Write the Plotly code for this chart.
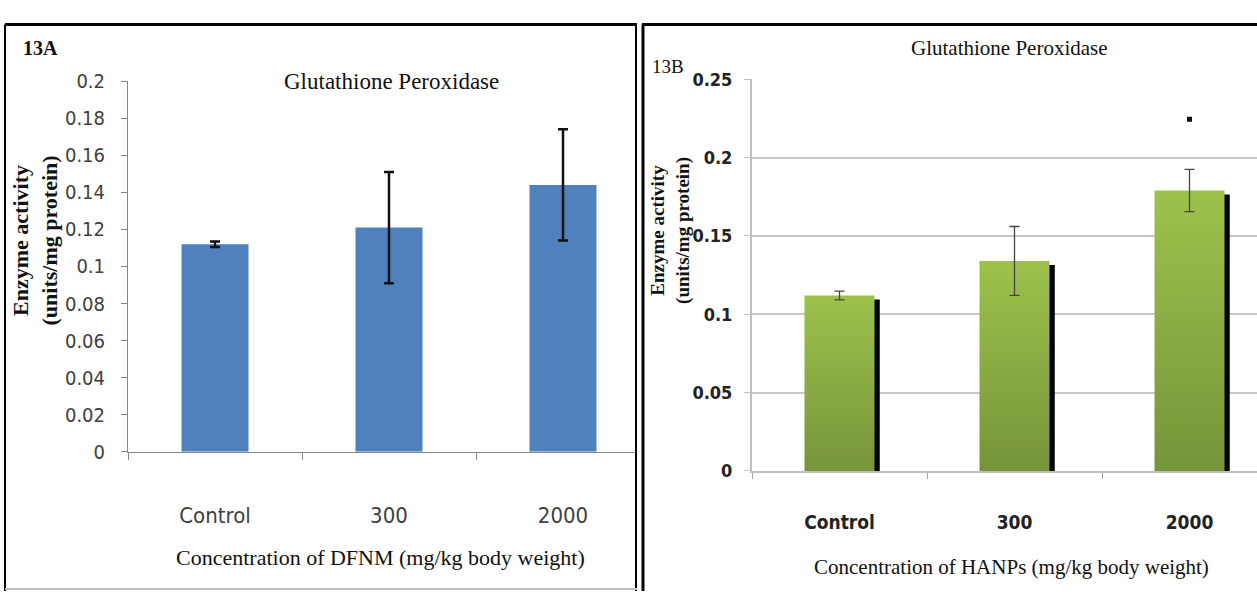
import plotly.graph_objects as go

# ---- data -------------------------------------------------------------
categories = ["Control", "300", "2000"]

# Panel 13A: DFNM
dfnm_mean = [0.112, 0.121, 0.144]
dfnm_err = [0.0015, 0.030, 0.030]
dfnm_yticks = [0, 0.02, 0.04, 0.06, 0.08, 0.1, 0.12, 0.14, 0.16, 0.18, 0.2]
dfnm_yticktext = ["0", "0.02", "0.04", "0.06", "0.08", "0.1", "0.12", "0.14", "0.16", "0.18", "0.2"]

# Panel 13B: HANPs
hanp_mean = [0.112, 0.134, 0.179]
hanp_err = [0.0028, 0.022, 0.0135]
hanp_sig_y = [None, None, 0.2245]
hanp_yticks = [0, 0.05, 0.1, 0.15, 0.2, 0.25]
hanp_yticktext = ["0", "0.05", "0.1", "0.15", "0.2", "0.25"]

W, H = 1257, 603
NARROW = "DejaVu Sans Condensed, Liberation Sans Narrow, Arial Narrow, sans-serif"
SERIF = "Liberation Serif, Times New Roman, serif"
AXIS_GREY = "#868686"

xpos = list(range(len(categories)))


def px(x):
    return x / W


def py(y):
    return 1 - y / H


fig = go.Figure()

# ---- 13A: solid blue bars --------------------------------------------
fig.add_trace(go.Bar(
    x=xpos, y=dfnm_mean, width=0.385,
    marker=dict(color="#4F81BD", line=dict(width=0)),
    error_y=dict(type="data", array=dfnm_err, color="#111111", thickness=2.5, width=5),
    xaxis="x", yaxis="y", showlegend=False,
))

# ---- 13B: gradient bars with a drop shadow ----------------------------
bw = 0.40
sh_dx = 0.03
sh_dy = 0.0025
for i, v in zip(xpos, hanp_mean):
    xl, xr = i - bw / 2, i + bw / 2
    fig.add_trace(go.Scatter(
        x=[xr - 0.005, xr + sh_dx, xr + sh_dx, xr - 0.005, xr - 0.005],
        y=[0, 0, v - sh_dy, v - sh_dy, 0],
        mode="lines", line=dict(width=0), fill="toself", fillcolor="#000000",
        xaxis="x2", yaxis="y2", showlegend=False, hoverinfo="skip",
    ))
    fig.add_trace(go.Scatter(
        x=[xl, xr, xr, xl, xl], y=[0, 0, v, v, 0],
        mode="lines", line=dict(width=0), fill="toself",
        fillgradient=dict(type="vertical",
                          colorscale=[[0, "#76943A"], [1, "#9DC24B"]]),
        xaxis="x2", yaxis="y2", showlegend=False, hoverinfo="skip",
    ))

fig.add_trace(go.Scatter(
    x=xpos, y=hanp_mean, mode="markers",
    marker=dict(size=1, color="rgba(0,0,0,0)"),
    error_y=dict(type="data", array=hanp_err, color="#444444", thickness=1.3, width=5),
    xaxis="x2", yaxis="y2", showlegend=False,
))
fig.add_trace(go.Scatter(
    x=xpos, y=hanp_sig_y, mode="markers",
    marker=dict(size=5, color="#111111", symbol="square"),
    xaxis="x2", yaxis="y2", showlegend=False,
))

# ---- axes -------------------------------------------------------------
left_x0, left_x1, left_step = 128, 637, 174
right_x0, right_x1, right_step = 752, 1257, 175

fig.update_layout(
    width=W, height=H,
    margin=dict(l=0, r=0, t=0, b=0),
    paper_bgcolor="white", plot_bgcolor="white",
    xaxis=dict(
        domain=[px(left_x0), px(left_x1)],
        range=[-0.5, -0.5 + (left_x1 - left_x0) / left_step],
        tickmode="array", tickvals=xpos, ticktext=categories,
        ticks="", ticklabelstandoff=44,
        tickfont=dict(family=NARROW, size=22, color="#404040"),
        showline=True, linecolor=AXIS_GREY, linewidth=1,
        showgrid=False, zeroline=False,
        minor=dict(tickvals=[-0.5, 0.5, 1.5, 2.5], ticks="outside",
                   ticklen=7, tickcolor=AXIS_GREY, showgrid=False),
        anchor="y",
    ),
    yaxis=dict(
        domain=[py(458), py(72)],
        range=[0, 0.2],
        tickmode="array", tickvals=dfnm_yticks, ticktext=dfnm_yticktext,
        ticks="outside", ticklen=6, tickcolor=AXIS_GREY, ticklabelstandoff=12,
        tickfont=dict(family=NARROW, size=20, color="#404040"),
        showline=True, linecolor=AXIS_GREY, linewidth=1,
        showgrid=False, zeroline=False,
        anchor="x",
    ),
    xaxis2=dict(
        domain=[px(right_x0), 1],
        range=[-0.5, -0.5 + (right_x1 - right_x0) / right_step],
        tickmode="array", tickvals=xpos, ticktext=categories,
        ticks="", ticklabelstandoff=33,
        tickfont=dict(family=NARROW, size=19, color="#222222", weight="bold"),
        showline=True, linecolor="#BFBFBF", linewidth=2,
        showgrid=False, zeroline=False,
        minor=dict(tickvals=[-0.5, 0.5, 1.5, 2.5], ticks="outside",
                   ticklen=6, tickcolor="#A6A6A6", showgrid=False),
        anchor="y2",
    ),
    yaxis2=dict(
        domain=[py(478), py(70)],
        range=[0, 0.25],
        tickmode="array", tickvals=hanp_yticks, ticktext=hanp_yticktext,
        ticks="outside", ticklen=6, tickcolor="#BFBFBF", ticklabelstandoff=8,
        tickfont=dict(family=NARROW, size=18, color="#222222", weight="bold"),
        showline=True, linecolor="#BFBFBF", linewidth=2,
        showgrid=True, gridcolor="#C8C8C8", gridwidth=2, zeroline=False,
        anchor="x2",
    ),
)

# ---- titles and labels ------------------------------------------------
ann = [
    dict(text="<b>13A</b>", x=px(21), y=py(38), xanchor="left",
         font=dict(family=SERIF, size=20, color="#111111")),
    dict(text="Glutathione Peroxidase", x=px(391), y=py(72),
         font=dict(family=SERIF, size=23, color="#111111")),
    dict(text="<b>Enzyme activity<br>(units/mg protein)</b>", x=px(35), y=py(238),
         textangle=-90, font=dict(family=SERIF, size=22, color="#111111")),
    dict(text="Concentration of DFNM (mg/kg body weight)", x=px(380), y=py(568),
         font=dict(family=SERIF, size=22, color="#111111")),
    dict(text="13B", x=px(650), y=py(57), xanchor="left",
         font=dict(family=SERIF, size=19, color="#111111")),
    dict(text="Glutathione Peroxidase", x=px(1009), y=py(38),
         font=dict(family=SERIF, size=21, color="#111111")),
    dict(text="<b>Enzyme activity<br>(units/mg protein)</b>", x=px(671), y=py(228),
         textangle=-90, font=dict(family=SERIF, size=19, color="#111111")),
    dict(text="Concentration of HANPs (mg/kg body weight)", x=px(1012), y=py(578),
         font=dict(family=SERIF, size=21, color="#111111")),
]
for a in ann:
    a.update(xref="paper", yref="paper", showarrow=False)
    a.setdefault("xanchor", "center")
    a.setdefault("yanchor", "middle")
fig.update_layout(annotations=ann)

# ---- panel frames -----------------------------------------------------
shapes = [
    # left panel frame
    dict(x0=px(5), x1=px(637), y0=py(13), y1=py(13), line=dict(color="#000000", width=3)),
    dict(x0=px(5), x1=px(5), y0=py(13), y1=py(603), line=dict(color="#000000", width=2)),
    dict(x0=px(636), x1=px(636), y0=py(13), y1=py(603), line=dict(color="#000000", width=2)),
    dict(x0=px(5), x1=px(637), y0=py(601), y1=py(601), line=dict(color="#BDBDBD", width=2)),
    # right panel frame
    dict(x0=px(642), x1=1, y0=py(13), y1=py(13), line=dict(color="#000000", width=3)),
    dict(x0=px(643), x1=px(643), y0=py(13), y1=py(603), line=dict(color="#000000", width=3)),
]
for s in shapes:
    s.update(type="line", xref="paper", yref="paper", layer="above")
fig.update_layout(shapes=shapes)

fig.write_html("out.html")
